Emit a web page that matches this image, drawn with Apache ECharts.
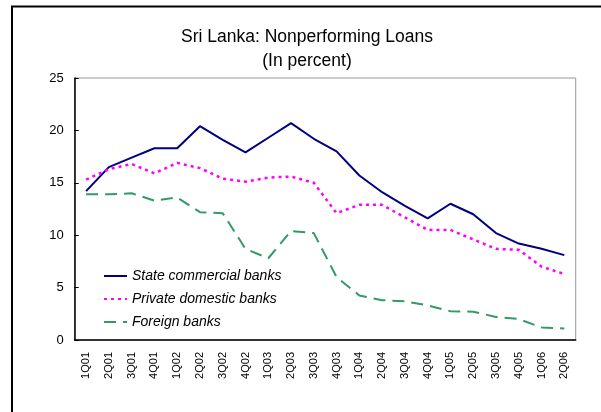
<!DOCTYPE html>
<html>
<head>
<meta charset="utf-8">
<script src="https://cdn.jsdelivr.net/npm/echarts@6/dist/echarts.min.js"></script>
<style>
html,body{margin:0;padding:0;background:#fff;}
#chart{width:601px;height:412px;}
</style>
</head>
<body>
<div id="chart"></div>
<script>
var categories = ['1Q01','2Q01','3Q01','4Q01','1Q02','2Q02','3Q02','4Q02','1Q03','2Q03','3Q03','4Q03','1Q04','2Q04','3Q04','4Q04','1Q05','2Q05','3Q05','4Q05','1Q06','2Q06'];
var stateBanks = [14.2,16.5,17.4,18.3,18.3,20.4,19.1,17.9,19.3,20.7,19.2,18.0,15.7,14.1,12.8,11.6,13.0,12.0,10.2,9.2,8.7,8.1];
var privateBanks = [15.3,16.3,16.8,15.9,16.9,16.4,15.4,15.1,15.5,15.6,15.0,12.1,12.9,12.9,11.7,10.5,10.5,9.6,8.7,8.6,7.0,6.3];
var foreignBanks = [13.9,13.9,14.0,13.3,13.6,12.2,12.1,8.7,7.8,10.4,10.2,6.0,4.25,3.8,3.7,3.3,2.75,2.7,2.2,2.0,1.2,1.1];
var yTicks = [0,5,10,15,20,25];

var FONT = 'Arial, "Liberation Sans", sans-serif';
var chart = echarts.init(document.getElementById('chart'), null, {renderer:'canvas'});
chart.setOption({
  animation: false,
  backgroundColor: '#ffffff',
  title: {
    text: 'Sri Lanka: Nonperforming Loans\n(In percent)',
    left: 302, top: 20, textAlign: 'center',
    textStyle: {fontFamily: FONT, fontSize: 17.5, fontWeight: 'normal', color: '#000', lineHeight: 24}
  },
  graphic: [{
    type: 'rect', silent: true,
    shape: {x: 12, y: 6.5, width: 620, height: 440},
    style: {fill: 'none', stroke: '#000', lineWidth: 2}
  }],
  legend: {
    orient: 'vertical', left: 98, top: 264,
    itemWidth: 23, itemHeight: 14, itemGap: 9,
    itemStyle: {opacity: 0},
    textStyle: {fontFamily: FONT, fontSize: 14, fontStyle: 'italic', color: '#000'},
    data: ['State commercial banks','Private domestic banks','Foreign banks']
  },
  grid: {
    left: 74.7, right: 25.3, top: 78, bottom: 72,
    show: true, borderColor: '#999', borderWidth: 1, backgroundColor: 'transparent'
  },
  xAxis: {
    type: 'category', data: categories, boundaryGap: true,
    axisLine: {lineStyle: {color: '#000', width: 1.5}},
    axisTick: {inside: true, length: 4, lineStyle: {color: '#000'}},
    axisLabel: {rotate: 90, fontFamily: FONT, fontSize: 11, color: '#000', margin: 12, interval: 0},
    splitLine: {show: false}
  },
  yAxis: {
    type: 'value', min: yTicks[0], max: yTicks[yTicks.length-1], interval: 5,
    axisLine: {show: true, lineStyle: {color: '#000', width: 1.5}},
    axisTick: {show: true, inside: true, length: 4, lineStyle: {color: '#000'}},
    axisLabel: {fontFamily: FONT, fontSize: 13, color: '#000', margin: 11},
    splitLine: {show: false}
  },
  series: [
    {name: 'State commercial banks', type: 'line', data: stateBanks, symbol: 'none',
     lineStyle: {color: '#000080', width: 2, type: 'solid'}, itemStyle: {color: '#000080'}},
    {name: 'Private domestic banks', type: 'line', data: privateBanks, symbol: 'none',
     lineStyle: {color: '#FF00FF', width: 2.5, type: [3, 4]}, itemStyle: {color: '#FF00FF'}},
    {name: 'Foreign banks', type: 'line', data: foreignBanks, symbol: 'none',
     lineStyle: {color: '#339966', width: 2, type: [12, 7]}, itemStyle: {color: '#339966'}}
  ]
});
</script>
</body>
</html>
